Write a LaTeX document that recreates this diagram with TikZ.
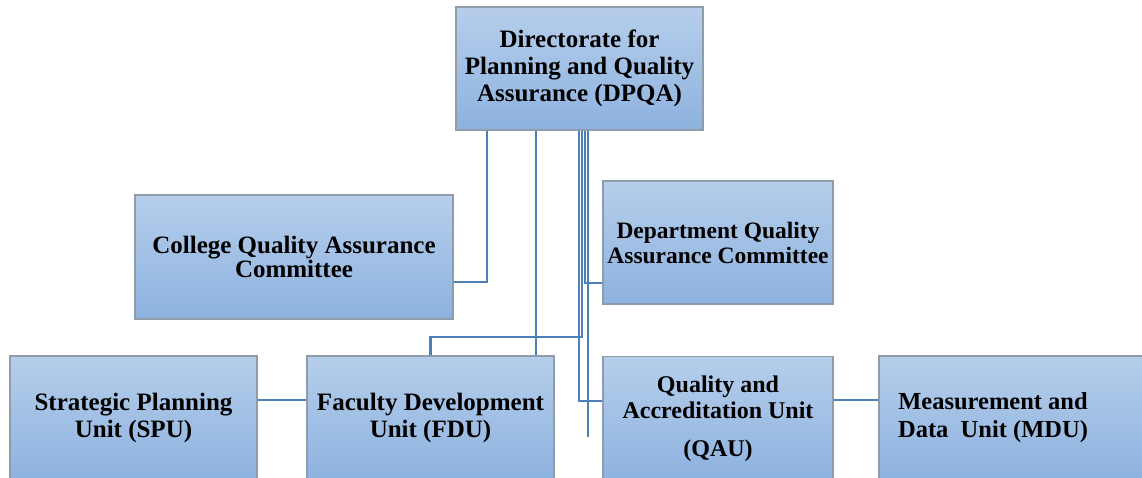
\documentclass[tikz,border=0pt]{standalone}
\usepackage{fontspec}
\setmainfont{Liberation Serif}
\usetikzlibrary{shadows}
\definecolor{boxtop}{HTML}{B6CEEB}
\definecolor{boxbot}{HTML}{8DB2DF}
\definecolor{boxedge}{HTML}{8F9CAA}
\definecolor{linkcol}{HTML}{4C7FB8}
\tikzset{
  orgbox/.style={draw=boxedge, line width=1.5pt, top color=boxtop, bottom color=boxbot,
    drop shadow={opacity=0.25, shadow xshift=1.2pt, shadow yshift=-1.2pt},
    align=center, inner sep=0pt, text=black,
    font=\fontsize{25}{27}\selectfont\bfseries},
  link/.style={draw=linkcol, line width=2.3pt}
}
\begin{document}
\begin{tikzpicture}[x=1pt,y=-1pt]
\useasboundingbox (0,0) rectangle (1142,477);
\clip (0,0) rectangle (1142,477);
\fill[white] (0,0) rectangle (1142,477);

% boxes
\node[orgbox, minimum width=247pt, minimum height=123pt] (dpqa) at (579.5,68.5)
  {Directorate for\\Planning and Quality\\Assurance (DPQA)};
\node[orgbox, minimum width=318pt, minimum height=124pt,
      font=\fontsize{25}{24}\selectfont\bfseries] (cqac) at (294,257)
  {College Quality Assurance\\Committee};
\node[orgbox, minimum width=230pt, minimum height=123pt,
      font=\fontsize{23.5}{25}\selectfont\bfseries] (dqac) at (718,242.5)
  {Department Quality\\Assurance Committee};
\node[orgbox, minimum width=247pt, minimum height=124pt] (spu) at (133.5,418)
  {Strategic Planning\\Unit (SPU)};
\node[orgbox, minimum width=247pt, minimum height=124pt] (fdu) at (430.5,418)
  {Faculty Development\\Unit (FDU)};
\node[orgbox, minimum width=230pt, minimum height=124pt,
      font=\fontsize{24}{26}\selectfont\bfseries] (qau) at (718,418.5)
  {Quality and\\Accreditation Unit\\[12pt](QAU)};
\node[orgbox, minimum width=266pt, minimum height=124pt,
      font=\fontsize{24.5}{28}\selectfont\bfseries] (mdu) at (1012,418)
  {Measurement and\hspace*{38pt}\\Data\ \ Unit (MDU)\hspace*{38pt}};

% connectors
\coordinate (freeend) at (588,437);
\draw[link] ([xshift=-92.5pt]dpqa.south) |- ([yshift=-25pt]cqac.east);
\draw[link] ([xshift=-43.5pt]dpqa.south) -- ([xshift=105.5pt]fdu.north);
\draw[link] ([xshift=-0.5pt]dpqa.south) |- ([yshift=17.5pt]qau.west);
\draw[link] ([xshift=2.5pt]dpqa.south) -- ++(0,206) -| (fdu.north);
\draw[link] ([xshift=5.5pt]dpqa.south) |- ([yshift=-40.5pt]dqac.west);
\draw[link] ([xshift=8.5pt]dpqa.south) -- (freeend);
\draw[link] ([yshift=18pt]spu.east) -- ([yshift=18pt]fdu.west);
\draw[link] ([yshift=18.5pt]qau.east) -- ([yshift=18pt]mdu.west);
\end{tikzpicture}
\end{document}
